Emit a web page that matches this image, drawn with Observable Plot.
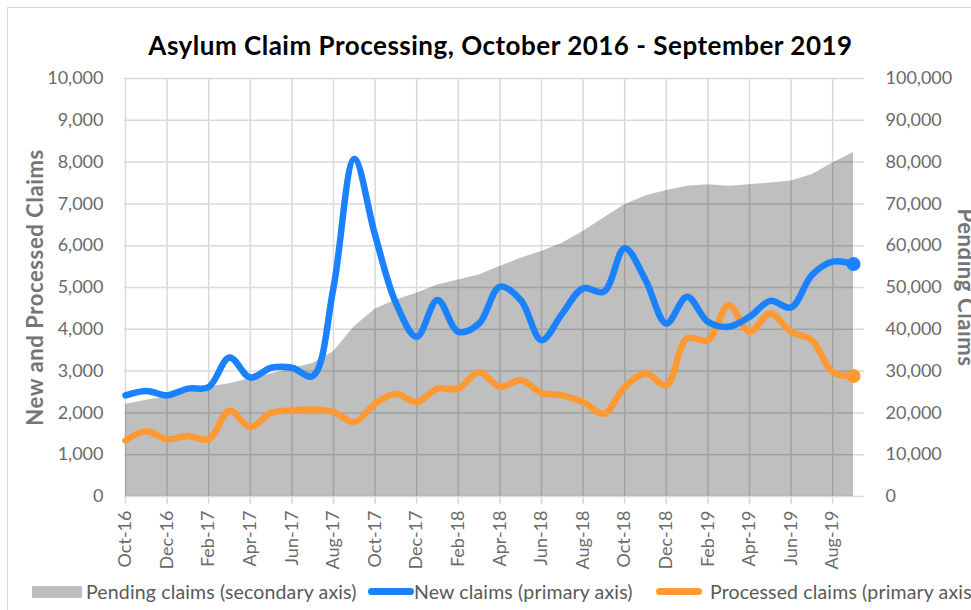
<!DOCTYPE html>
<html>
<head>
<meta charset="utf-8">
<script src="https://cdn.jsdelivr.net/npm/d3@7"></script>
<script src="https://cdn.jsdelivr.net/npm/@observablehq/plot@0.6"></script>
<style>
  html, body { margin: 0; padding: 0; background: #fff; }
  #wrap { position: relative; width: 971px; height: 610px; overflow: hidden; font-family: Lato, "Open Sans", sans-serif; }
  #frame { position: absolute; left: 7px; top: 7px; width: 1200px; height: 1200px; border: 1.5px solid #d9d9d9; box-sizing: border-box; }
  #title { position: relative; height: 64px; box-sizing: border-box; padding-top: 30px; padding-left: 30px; text-align: center; font-size: 26px; letter-spacing: 0.5px; font-weight: 700; line-height: 30px; color: #000; white-space: nowrap; }
  #chart { position: relative; height: 511px; }
  #legend { position: relative; height: 35px; font-size: 19.5px; letter-spacing: 0.15px; color: #595959; }
  .lg { position: absolute; top: 0; line-height: 34px; white-space: nowrap; }
  .sw { position: absolute; }
</style>
</head>
<body>
<div id="wrap">
  <div id="frame"></div>
  <div id="title"></div>
  <div id="chart"></div>
  <div id="legend"></div>
</div>
<script>
const titleText = "Asylum Claim Processing, October 2016 - September 2019";
const leftAxisTitle = "New and Processed Claims";
const rightAxisTitle = "Pending Claims";

const months = [
  "Oct-16","Nov-16","Dec-16","Jan-17","Feb-17","Mar-17","Apr-17","May-17","Jun-17","Jul-17","Aug-17","Sep-17",
  "Oct-17","Nov-17","Dec-17","Jan-18","Feb-18","Mar-18","Apr-18","May-18","Jun-18","Jul-18","Aug-18","Sep-18",
  "Oct-18","Nov-18","Dec-18","Jan-19","Feb-19","Mar-19","Apr-19","May-19","Jun-19","Jul-19","Aug-19","Sep-19"
];

const newClaims = [
  2420, 2525, 2420, 2580, 2620, 3325, 2845, 3080, 3080, 2880, 5000, 8075,
  6250, 4630, 3820, 4700, 3940, 4140, 5020, 4700, 3740, 4380, 4980, 4900,
  5940, 5180, 4140, 4780, 4180, 4060, 4300, 4680, 4520, 5300, 5620, 5560
];

const processedClaims = [
  1340, 1560, 1370, 1450, 1370, 2050, 1660, 2000, 2060, 2080, 2020, 1780,
  2220, 2460, 2260, 2580, 2580, 2980, 2620, 2780, 2480, 2420, 2260, 1980,
  2620, 2940, 2660, 3780, 3740, 4580, 3940, 4380, 3940, 3740, 2980, 2880
];

const pendingClaims = [
  22000, 23000, 23800, 25000, 26200, 27000, 28200, 29300, 30600, 31800, 34600, 40600,
  44800, 47000, 48600, 50600, 51800, 53000, 55000, 57000, 58600, 60600, 63400, 66600,
  69800, 71900, 73200, 74200, 74600, 74200, 74600, 75000, 75500, 77000, 79800, 82300
];

const leftTicks = d3.range(0, 10001, 1000);
const xTicks = months.filter((d, i) => i % 2 === 0);

const legendItems = [
  {label: "Pending claims (secondary axis)", color: "#bfbfbf", kind: "box", sx: 32, tx: 86},
  {label: "New claims (primary axis)", color: "#1a82ff", kind: "line", sx: 368, tx: 414},
  {label: "Processed claims (primary axis)", color: "#ff9933", kind: "line", sx: 656, tx: 710}
];

const BLUE = "#1a82ff", ORANGE = "#ff9933", GRID = "#d9d9d9", TICK = "#6a6a6a";
const fmt = d3.format(",");

document.getElementById("title").textContent = titleText;

const last = (d, i) => i === months.length - 1;

const chart = Plot.plot({
  width: 971,
  height: 511,
  marginLeft: 124,
  marginRight: 107,
  marginTop: 14,
  marginBottom: 79,
  style: {fontFamily: "Lato, 'Open Sans', sans-serif", fontSize: "18px", color: TICK, background: "transparent", overflow: "visible"},
  x: {type: "point", domain: months, range: [125, 853], padding: 0, round: false},
  y: {domain: [0, 10000]},
  marks: [
    Plot.gridY(leftTicks, {stroke: GRID, strokeOpacity: 1, strokeWidth: 1.5}),
    Plot.gridX(xTicks, {stroke: GRID, strokeOpacity: 1, strokeWidth: 1.5}),
    Plot.areaY(pendingClaims, {x: months, y: pendingClaims.map(v => v / 10), fill: "#000", fillOpacity: 0.25}),
    Plot.axisX(xTicks, {tickSize: 8, stroke: GRID, strokeWidth: 1.5, tickPadding: 6, tickRotate: -90, fill: TICK, fontSize: 18, label: null}),
    Plot.axisY(leftTicks, {anchor: "left", tickSize: 0, tickPadding: 21, tickFormat: d => fmt(d), fill: TICK, fontSize: 18, label: null}),
    Plot.axisY(leftTicks, {anchor: "right", tickSize: 0, tickPadding: 21, tickFormat: d => fmt(d * 10), fill: TICK, fontSize: 18, label: null}),
    Plot.lineY(processedClaims, {x: months, stroke: ORANGE, strokeWidth: 6.5, curve: "catmull-rom"}),
    Plot.lineY(newClaims, {x: months, stroke: BLUE, strokeWidth: 6.5, curve: "catmull-rom"}),
    Plot.dot(processedClaims, {x: months, y: processedClaims, filter: last, r: 7, fill: ORANGE}),
    Plot.dot(newClaims, {x: months, y: newClaims, filter: last, r: 7, fill: BLUE}),
    Plot.text([leftAxisTitle], {frameAnchor: "left", textAnchor: "middle", dx: -89, rotate: -90, fill: "#757575", fontSize: 22, fontWeight: 700}),
    Plot.text([rightAxisTitle], {frameAnchor: "right", textAnchor: "middle", dx: 101, rotate: 90, fill: "#757575", fontSize: 22, fontWeight: 700})
  ]
});
document.getElementById("chart").appendChild(chart);
chart.querySelectorAll("text").forEach(t => {
  if (t.textContent === leftAxisTitle || t.textContent === rightAxisTitle) t.style.letterSpacing = "0.6px";
});

const legend = document.getElementById("legend");
for (const it of legendItems) {
  const sw = document.createElement("div");
  sw.className = "sw";
  if (it.kind === "box") {
    Object.assign(sw.style, {left: it.sx + "px", top: "11px", width: "50px", height: "12px", background: it.color});
  } else {
    Object.assign(sw.style, {left: it.sx + "px", top: "13px", width: "46px", height: "7px", background: it.color, borderRadius: "4px"});
  }
  legend.appendChild(sw);
  const t = document.createElement("div");
  t.className = "lg";
  t.style.left = it.tx + "px";
  t.textContent = it.label;
  legend.appendChild(t);
}
</script>
</body>
</html>
